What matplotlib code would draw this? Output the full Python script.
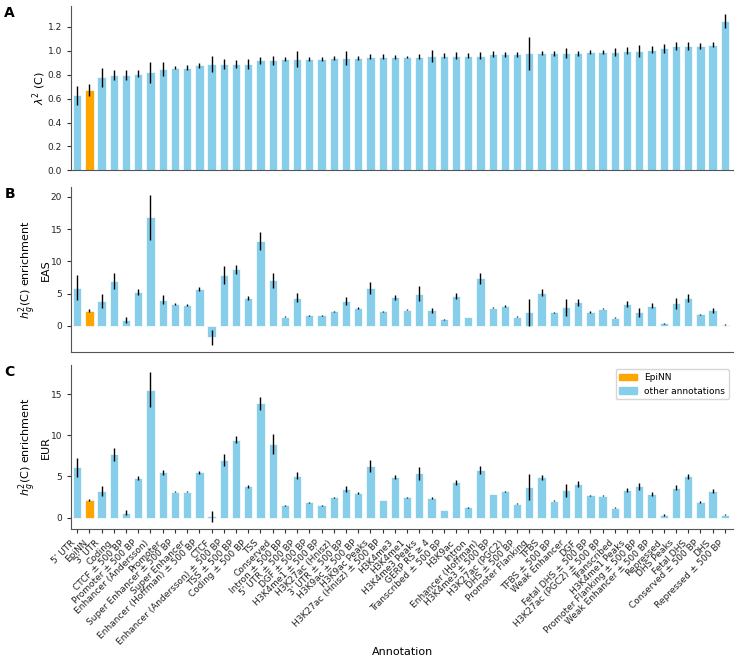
import numpy as np
import matplotlib
matplotlib.use("Agg")
import matplotlib.pyplot as plt

labels = ["5' UTR", "EpiNN", "3' UTR", "Coding", "CTCF ± 500 BP", "Promoter ± 500 BP",
          "Enhancer (Andersson)", "Promoter", "Super Enhancer ± 500 BP", "Super Enhancer",
          "Enhancer (Hoffman) ± 500 BP", "CTCF", "Enhancer (Andersson) ± 500 BP",
          "TSS ± 500 BP", "Coding ± 500 BP", "TSS", "Conserved", "Intron ± 500 BP",
          "5' UTR ± 500 BP", "DGF ± 500 BP", "H3K4me1 ± 500 BP", "H3K27ac (Hnisz)",
          "3' UTR ± 500 BP", "H3K9ac ± 500 BP", "H3K9ac Peaks", "H3K27ac (Hnisz) ± 500 BP",
          "H3K4me3", "H3K4me1", "H3K4me3 Peaks", "GERP RS ≥ 4", "Transcribed ± 500 BP",
          "H3K9ac", "Intron", "Enhancer (Hoffman)", "H3K4me3 ± 500 BP", "H3K27ac (PGC2)",
          "DHS ± 500 BP", "Promoter Flanking", "TFBS", "TFBS ± 500 BP", "Weak Enhancer",
          "DGF", "Fetal DHS ± 500 BP", "H3K27ac (PGC2) ± 500 BP", "Transcribed",
          "H3K4me1 Peaks", "Promoter Flanking ± 500 BP", "Weak Enhancer ± 500 BP",
          "Repressed", "DHS Peaks", "Fetal DHS", "Conserved ± 500 BP", "DHS",
          "Repressed ± 500 BP"]

# panel A: lambda^2 (C)
lam = [0.63, 0.67, 0.78, 0.80, 0.80, 0.81, 0.82, 0.85, 0.86, 0.86, 0.88, 0.89, 0.89,
       0.89, 0.89, 0.92, 0.92, 0.93, 0.93, 0.93, 0.93, 0.94, 0.94, 0.94, 0.95, 0.95,
       0.95, 0.95, 0.95, 0.96, 0.96, 0.96, 0.96, 0.96, 0.97, 0.97, 0.97, 0.98, 0.98,
       0.98, 0.98, 0.98, 0.99, 0.99, 0.99, 1.00, 1.00, 1.01, 1.02, 1.04, 1.04, 1.04,
       1.05, 1.25]
lam_err = [0.08, 0.05, 0.08, 0.04, 0.04, 0.03, 0.09, 0.06, 0.015, 0.02, 0.02, 0.07, 0.04,
           0.03, 0.04, 0.03, 0.04, 0.015, 0.065, 0.015, 0.015, 0.015, 0.06, 0.015, 0.02,
           0.02, 0.015, 0.01, 0.02, 0.05, 0.02, 0.03, 0.02, 0.03, 0.025, 0.02, 0.02, 0.14,
           0.015, 0.02, 0.04, 0.02, 0.015, 0.015, 0.03, 0.03, 0.05, 0.03, 0.04, 0.03, 0.03,
           0.025, 0.02, 0.06]

# panel B: enrichment EAS
eas = [5.9, 2.35, 3.92, 6.95, 0.94, 5.22, 16.8, 4.07, 3.4, 3.3, 5.7, -1.78, 7.9, 8.77,
       4.39, 13.1, 7.05, 1.46, 4.39, 1.67, 1.62, 2.25, 3.92, 2.77, 5.85, 2.25, 4.44, 2.5,
       5.0, 2.4, 1.0, 4.65, 1.36, 7.36, 2.82, 3.13, 1.46, 2.09, 5.12, 2.09, 2.87, 3.66,
       2.19, 2.66, 1.3, 3.34, 2.14, 3.13, 0.42, 3.5, 4.28, 1.78, 2.4, 0.21]
eas_err = [1.96, 0.25, 1.07, 1.25, 0.45, 0.5, 3.5, 0.68, 0.1, 0.15, 0.3, 1.1, 1.45, 0.7,
           0.3, 1.4, 1.2, 0.05, 0.65, 0.1, 0.05, 0.1, 0.6, 0.15, 0.95, 0.1, 0.4, 0.1, 1.2,
           0.35, 0.02, 0.45, 0.05, 0.8, 0.1, 0.15, 0.1, 2.1, 0.55, 0.1, 1.3, 0.5, 0.15, 0.1,
           0.1, 0.45, 0.7, 0.35, 0.1, 0.9, 0.6, 0.1, 0.45, 0.1]

# panel C: enrichment EUR
eur = [6.09, 2.1, 3.23, 7.66, 0.6, 4.8, 15.53, 5.48, 3.15, 3.15, 5.48, 0.16, 7.0, 9.48,
       3.79, 13.9, 8.9, 1.49, 5.08, 1.85, 1.49, 2.46, 3.47, 2.98, 6.29, 2.14, 4.92, 2.46,
       5.36, 2.38, 0.89, 4.31, 1.25, 5.73, 2.86, 3.19, 1.69, 3.67, 4.92, 2.06, 3.31, 4.07,
       2.7, 2.66, 1.17, 3.35, 3.79, 2.86, 0.32, 3.63, 5.04, 1.9, 3.23, 0.36]
eur_err = [1.2, 0.15, 0.65, 0.8, 0.3, 0.25, 2.1, 0.35, 0.1, 0.08, 0.15, 0.68, 0.75, 0.4,
           0.2, 0.8, 1.2, 0.03, 0.45, 0.03, 0.03, 0.05, 0.35, 0.1, 0.75, 0.05, 0.2, 0.05,
           0.8, 0.15, 0.03, 0.3, 0.05, 0.5, 0.05, 0.07, 0.05, 1.57, 0.3, 0.05, 0.8, 0.35,
           0.07, 0.06, 0.07, 0.2, 0.4, 0.2, 0.08, 0.3, 0.3, 0.08, 0.25, 0.05]

plt.rcParams['font.size'] = 6.5
x = np.arange(len(labels))
colors = ['orange' if l == 'EpiNN' else 'skyblue' for l in labels]

fig = plt.figure(figsize=(7.36, 6.63), dpi=100)
axA = fig.add_axes([0.0965, 0.743, 0.9, 0.248])
axB = fig.add_axes([0.0965, 0.469, 0.9, 0.2485])
axC = fig.add_axes([0.0965, 0.2017, 0.9, 0.2478])

panels = [(axA, lam, lam_err, r'$\lambda^2$ (C)'),
          (axB, eas, eas_err, '$h_g^2$(C) enrichment\nEAS'),
          (axC, eur, eur_err, '$h_g^2$(C) enrichment\nEUR')]

for ax, vals, errs, ylab in panels:
    ax.bar(x, vals, yerr=errs, width=0.68, color=colors, edgecolor='white',
           linewidth=0.5, ecolor='black', error_kw={'elinewidth': 1})
    ax.set_xlim(-0.5, len(labels) - 0.3)
    ax.set_ylabel(ylab, fontsize=8, labelpad=0)
    ax.spines['top'].set_visible(False)
    ax.spines['right'].set_visible(False)
    ax.spines['left'].set_color('#555555')
    ax.spines['bottom'].set_color('#555555')
    ax.tick_params(colors='#333333', labelcolor='#222222', labelsize=6.5, length=3)

axA.set_xticks([])
axB.set_xticks([])
axA.set_yticks([0.0, 0.2, 0.4, 0.6, 0.8, 1.0, 1.2])
axB.set_yticks([0, 5, 10, 15, 20])
axC.set_yticks([0, 5, 10, 15])

axC.set_xticks(x)
axC.set_xticklabels(labels, rotation=45, ha='right', fontsize=6.5)
axC.set_xlabel('Annotation', fontsize=8, labelpad=0)

handles = [plt.Rectangle((0, 0), 1, 1, color='orange'),
           plt.Rectangle((0, 0), 1, 1, color='skyblue')]
axC.legend(handles, ['EpiNN', 'other annotations'], loc='upper right', fontsize=6.5)

fig.text(0.006, 0.975, 'A', fontsize=10, fontweight='bold')
fig.text(0.006, 0.702, 'B', fontsize=10, fontweight='bold')
fig.text(0.006, 0.433, 'C', fontsize=10, fontweight='bold')

plt.savefig('out.png', dpi=100)
